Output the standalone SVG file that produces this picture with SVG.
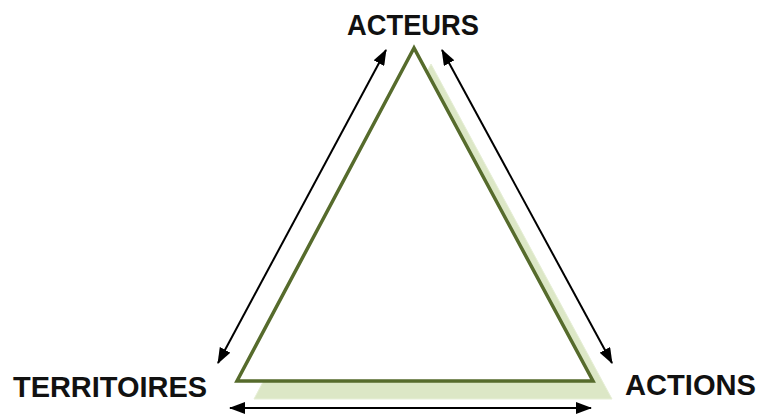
<svg xmlns="http://www.w3.org/2000/svg" width="760" height="415" viewBox="0 0 760 415">
<style>
.lbl{font-family:"Liberation Sans",Arial,sans-serif;font-weight:bold;font-size:29px;fill:#111;}
.con{stroke:#000;stroke-width:2;fill:none;marker-start:url(#ah);marker-end:url(#ah);}
</style>
<defs>
<marker id="ah" viewBox="0 0 16 12" refX="15" refY="6" markerWidth="8" markerHeight="6" markerUnits="strokeWidth" orient="auto-start-reverse">
<path d="M0,0 L16,6 L0,12 Z" fill="#000"/>
</marker>
</defs>
<g id="triangle">
<polygon points="431,64 254,399 612,399" fill="#dce7c6" stroke="#e6eed6" stroke-width="1"/>
<polygon points="414,48 237,381 593,381" fill="#fff" stroke="#566b2c" stroke-width="3.5" stroke-linejoin="miter"/>
</g>
<g id="acteurs"><text class="lbl" x="413" y="35" text-anchor="middle" textLength="132" lengthAdjust="spacingAndGlyphs">ACTEURS</text></g>
<g id="territoires"><text class="lbl" x="13" y="397" textLength="194" lengthAdjust="spacingAndGlyphs">TERRITOIRES</text></g>
<g id="actions"><text class="lbl" x="625" y="395" textLength="131" lengthAdjust="spacingAndGlyphs">ACTIONS</text></g>
<g id="connectors">
<line class="con" x1="218" y1="363" x2="386" y2="50"/>
<line class="con" x1="442" y1="50" x2="612" y2="363"/>
<line class="con" x1="230" y1="408" x2="591" y2="408"/>
</g>
</svg>
